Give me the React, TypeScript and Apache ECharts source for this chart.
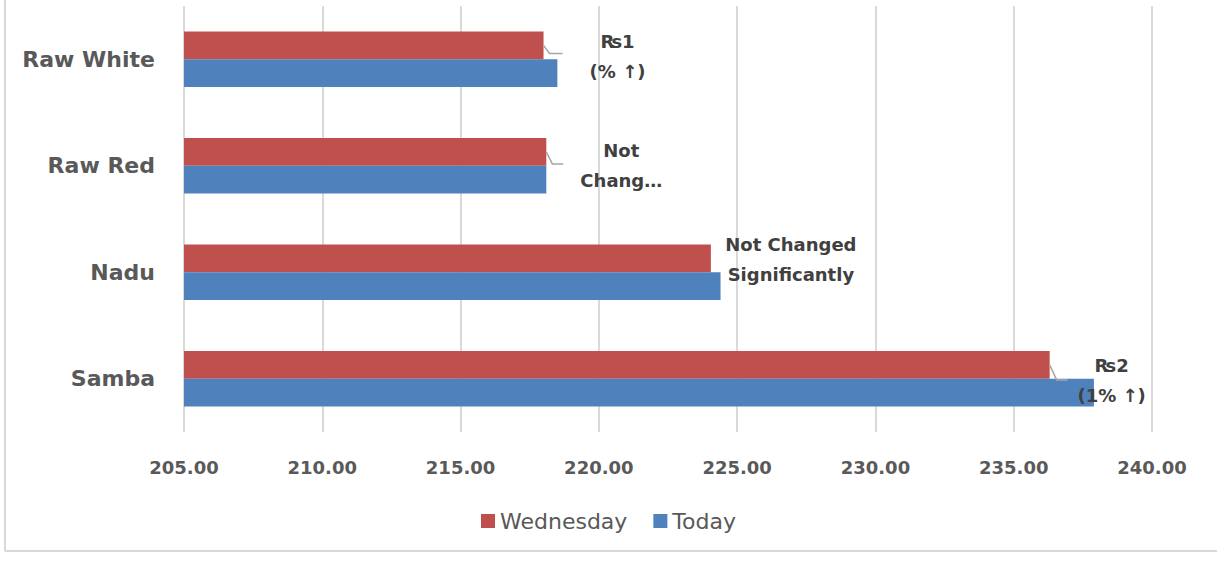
import React, { useEffect, useRef } from "react";
import * as echarts from "echarts";

const categories = ["Raw White", "Raw Red", "Nadu", "Samba"];
const wednesdayValues = [218.0, 218.1, 224.05, 236.3];
const todayValues = [218.5, 218.1, 224.4, 237.9];
const changeLabels = ["₨1\n(% ↑)", "Not\nChang…", "Not Changed\nSignificantly", "₨2\n(1% ↑)"];
const showLeader = [true, true, false, true];
const xTicks = { min: 205, max: 240, interval: 5 };

const labelOffsets = [
  { dx: 74, dy: 11 },
  { dx: 75, dy: 14 },
  { dx: 80, dy: 1 },
  { dx: 62, dy: 16 },
];
const leaderShapes = [
  { lx: 6, ly: 8, len: 19 },
  { lx: 6, ly: 12, len: 17 },
  { lx: 0, ly: 0, len: 0 },
  { lx: 7, ly: 15, len: 18 },
];

const FONT = "'DejaVu Sans', sans-serif";
const GAP = 0.48;

export default function App() {
  const ref = useRef<HTMLDivElement>(null);
  useEffect(() => {
    document.body.style.margin = "0";
    if (!ref.current) return;
    const chart = echarts.init(ref.current, undefined, { renderer: "svg" });
    chart.setOption({
      animation: false,
      textStyle: { fontFamily: FONT },
      grid: { left: 184, right: 65, top: 6, bottom: 134, containLabel: false },
      legend: {
        bottom: 29,
        left: "center",
        itemWidth: 14,
        itemHeight: 14,
        itemGap: 26,
        icon: "rect",
        textStyle: { fontSize: 22, color: "#595959", fontFamily: FONT },
        data: ["Wednesday", "Today"],
      },
      xAxis: {
        type: "value",
        min: xTicks.min,
        max: xTicks.max,
        interval: xTicks.interval,
        axisLine: { show: false },
        axisTick: { show: false },
        splitLine: { show: true, lineStyle: { color: "#d9d9d9", width: 2 } },
        axisLabel: {
          formatter: (v: number) => v.toFixed(2),
          fontSize: 18,
          fontWeight: "bold",
          color: "#595959",
          margin: 26,
        },
      },
      yAxis: {
        type: "category",
        data: categories,
        inverse: true,
        axisLine: { show: false },
        axisTick: { show: false },
        axisLabel: {
          fontSize: 22,
          fontWeight: "bold",
          color: "#595959",
          margin: 29,
        },
      },
      graphic: [
        {
          type: "line",
          shape: { x1: 5, y1: 0, x2: 5, y2: 551 },
          style: { stroke: "#d9d9d9", lineWidth: 2 },
          silent: true,
        },
        {
          type: "line",
          shape: { x1: 5, y1: 551, x2: 1217, y2: 551 },
          style: { stroke: "#d9d9d9", lineWidth: 2 },
          silent: true,
        },
      ],
      series: [
        {
          name: "Wednesday",
          type: "bar",
          data: wednesdayValues,
          itemStyle: { color: "#C0504D" },
          barCategoryGap: GAP * 100 + "%",
          barGap: "0%",
          label: {
            show: true,
            position: "right",
            formatter: (p: any) => changeLabels[p.dataIndex],
            fontSize: 18,
            fontWeight: "bold",
            color: "#404040",
            lineHeight: 30,
            align: "center",
            fontFamily: FONT,
          },
          labelLayout: (params: any) => {
            const o = labelOffsets[params.dataIndex];
            const r = params.rect;
            return {
              x: r.x + r.width + o.dx,
              y: r.y + r.height / 2 + o.dy,
              align: "center",
              verticalAlign: "middle",
            };
          },
        },
        {
          name: "Today",
          type: "bar",
          data: todayValues,
          itemStyle: { color: "#4F81BD" },
          barCategoryGap: GAP * 100 + "%",
          barGap: "0%",
        },
        {
          type: "custom",
          silent: true,
          encode: { x: 0, y: 1 },
          data: wednesdayValues.map((v, i) => [v, i]),
          renderItem: (params: any, api: any) => {
            const i = params.dataIndex;
            if (!showLeader[i]) return null;
            const s = leaderShapes[i];
            const pt = api.coord([api.value(0), api.value(1)]);
            const band = api.size([0, 1])[1];
            const thick = (band * (1 - GAP)) / 2;
            const ex = pt[0];
            const cy = pt[1] - thick / 2;
            return {
              type: "polyline",
              shape: {
                points: [
                  [ex, cy],
                  [ex + s.lx, cy + s.ly],
                  [ex + s.len, cy + s.ly],
                ],
              },
              style: { stroke: "#a6a6a6", lineWidth: 1.5, fill: "none" },
              z2: 10,
            };
          },
          z: 5,
        },
      ],
    });
    return () => chart.dispose();
  }, []);
  return <div ref={ref} style={{ width: 1217, height: 566 }} />;
}
